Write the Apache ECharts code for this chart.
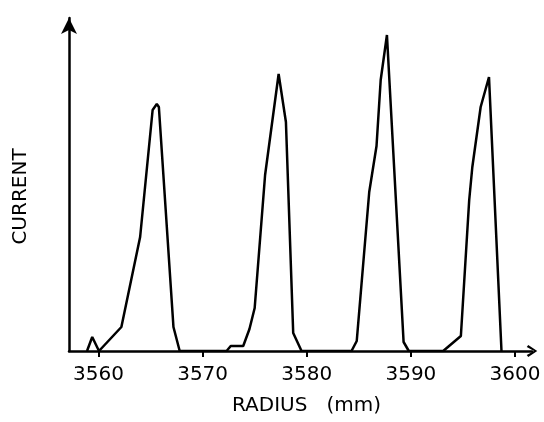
<!DOCTYPE html>
<html>
<head>
<meta charset="utf-8">
<script src="https://cdn.jsdelivr.net/npm/echarts@6/dist/echarts.min.js"></script>
<style>
html,body{margin:0;padding:0;background:#fff;}
#chart{width:544px;height:422px;}
</style>
</head>
<body>
<div id="chart"></div>
<script>
// Radius positions (mm) and measured current (arbitrary units)
const radius = [3558.9, 3559.4, 3560.05,
  3562.2, 3564.0, 3565.2, 3565.6, 3565.8, 3567.2, 3567.8,
  3572.3, 3572.7, 3573.9, 3574.5, 3575.0, 3576.0, 3577.3, 3578.0, 3578.7, 3579.5,
  3584.3, 3584.8, 3586.0, 3586.7, 3587.1, 3587.7, 3589.3, 3589.8,
  3593.1, 3594.8, 3595.6, 3595.9, 3596.7, 3597.5, 3598.7];
const current = [0, 14, 0,
  24, 114, 241, 247, 244, 24, 0,
  0, 5, 5, 22, 43, 176, 277, 229, 18, 0,
  0, 10, 159, 205, 271, 316, 9, 0,
  0, 15, 151, 184, 244, 274, 0];
const tickValues = [3560, 3570, 3580, 3590, 3600];
const xName = 'RADIUS   (mm)';
const yName = 'CURRENT';

const chart = echarts.init(document.getElementById('chart'), null, {renderer: 'canvas'});
const font = 'DejaVu Sans';
const chevron = 'path://M6,0 L12,9 L10,10.5 L6,3.2 L2,10.5 L0,9 Z';
chart.setOption({
  animation: false,
  backgroundColor: '#fff',
  grid: {left: 69, right: 12, top: 18, bottom: 71},
  xAxis: {
    type: 'value',
    min: 3557.17,
    max: 3601.63,
    name: xName,
    nameLocation: 'middle',
    nameGap: 45,
    nameTextStyle: {fontFamily: font, fontSize: 20, color: '#000', padding: [0, 0, 0, 12]},
    axisLine: {show: true, lineStyle: {color: '#000', width: 2.5}, symbol: ['none', chevron], symbolSize: [12, 12]},
    axisTick: {show: true, inside: false, length: 6, lineStyle: {color: '#000', width: 2}, customValues: tickValues},
    axisLabel: {show: true, margin: 14, fontFamily: font, fontSize: 20, color: '#000',
      customValues: tickValues, formatter: v => String(v)},
    splitLine: {show: false}
  },
  yAxis: {
    type: 'value',
    min: 0,
    max: 333,
    name: yName,
    nameLocation: 'middle',
    nameGap: 38,
    nameRotate: 90,
    nameTextStyle: {fontFamily: font, fontSize: 20, color: '#000', padding: [0, 24, 0, 0]},
    axisLine: {show: true, lineStyle: {color: '#000', width: 2.5}, symbol: ['none', 'arrow'], symbolSize: [12, 16]},
    axisTick: {show: false},
    axisLabel: {show: false},
    splitLine: {show: false}
  },
  series: [{
    type: 'line',
    data: radius.map((r, i) => [r, current[i]]),
    showSymbol: false,
    lineStyle: {color: '#000', width: 2.5},
    silent: true
  }]
});
</script>
</body>
</html>
